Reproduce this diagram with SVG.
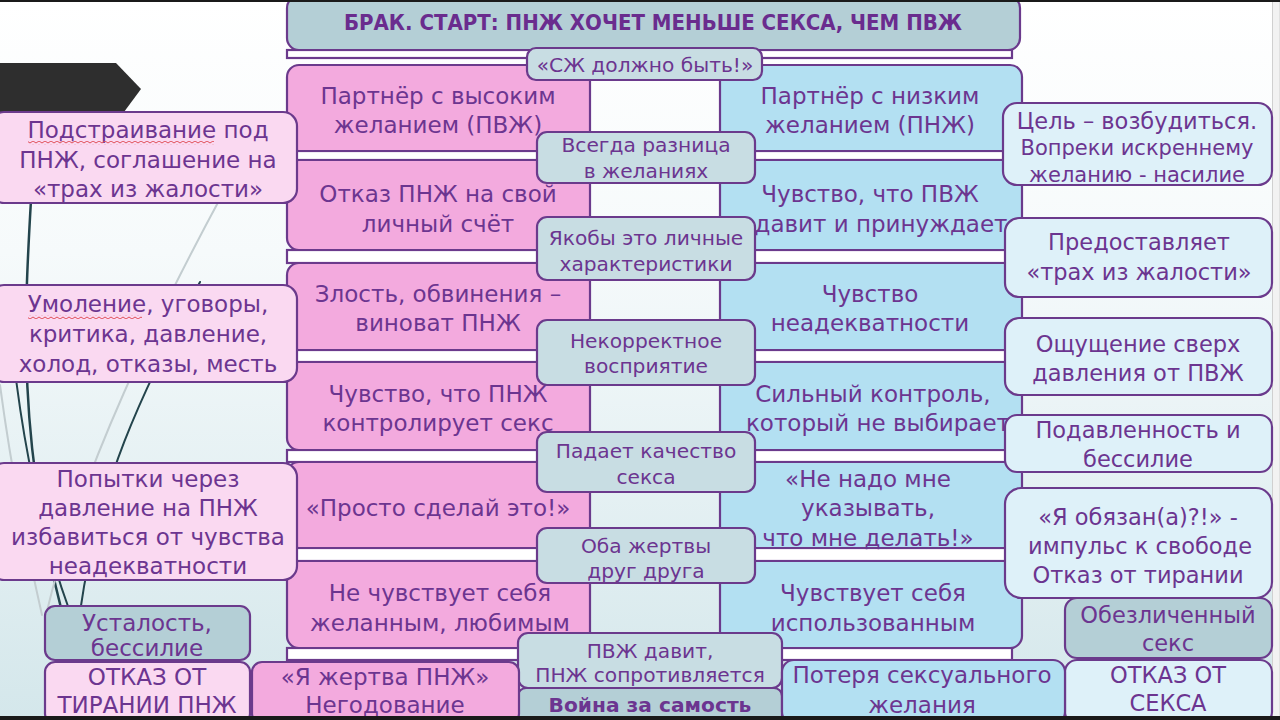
<svg xmlns="http://www.w3.org/2000/svg" width="1280" height="720" viewBox="0 0 1280 720">
<defs>
<linearGradient id="bg" x1="0" y1="0" x2="0" y2="1">
<stop offset="0" stop-color="#ffffff"/>
<stop offset="0.35" stop-color="#f6fafb"/>
<stop offset="1" stop-color="#d4e7eb"/>
</linearGradient>
<pattern id="wave" x="0" y="0" width="6" height="4" patternUnits="userSpaceOnUse">
<path d="M0,3 L3,1 L6,3" fill="none" stroke="#e0505a" stroke-width="1"/>
</pattern>
<style>
.t{font-family:"DejaVu Sans","Noto Sans",sans-serif;font-size:23px;fill:#6c3590;text-anchor:middle}
.r{font-size:22.5px}
.s{font-size:20.2px}
.sr{font-size:21px}
.b{font-weight:bold}
.ttl{font-family:"DejaVu Sans Condensed","DejaVu Sans",sans-serif;font-stretch:condensed;font-weight:bold;font-size:22px;fill:#6a2c8e;text-anchor:middle}
.pk,.lp,.bl,.lb,.gr,.dg,.bar{stroke:#6b3a8c;stroke-width:2.2}
.pk{fill:#f3aade}
.lp{fill:#fad9f1}
.bl{fill:#b3e0f2}
.lb{fill:#def1f9}
.gr{fill:#c8dde3}
.dg{fill:#b4cfd6}
.bar{fill:#ffffff}
.deco{fill:none;stroke-linecap:round}
.sq{fill:url(#wave);stroke:none}
</style>
</defs>
<rect x="0" y="0" width="1280" height="720" fill="url(#bg)"/>
<rect x="1272.5" y="0" width="7.5" height="720" fill="#f2f2f2" stroke="#d0d0d0" stroke-width="1"/>
<g id="decor">
<polygon points="0,63 116,63 141,89 124,112 0,112" fill="#2e2e2e"/>
<path class="deco" d="M31,200 C24,320 18,440 62,612" stroke="#23444c" stroke-width="2.5"/>
<path class="deco" d="M8,300 C18,430 40,530 70,612" stroke="#23444c" stroke-width="2"/>
<path class="deco" d="M200,282 C150,380 100,470 80,612" stroke="#23444c" stroke-width="2"/>
<path class="deco" d="M222,195 C160,310 80,470 46,615" stroke="#c3cdd0" stroke-width="2"/>
<path class="deco" d="M0,385 C10,460 25,540 42,615" stroke="#c3cdd0" stroke-width="2"/>
</g>
<g id="connectors">
<rect class="bar" x="287" y="50" width="725" height="8"/>
<rect class="bar" x="287" y="151" width="725" height="9"/>
<rect class="bar" x="287" y="250" width="725" height="13"/>
<rect class="bar" x="287" y="350" width="725" height="12"/>
<rect class="bar" x="287" y="450" width="725" height="12"/>
<rect class="bar" x="287" y="548" width="725" height="13"/>
<rect class="bar" x="287" y="648" width="725" height="12"/>
</g>
<g id="title"><rect class="dg" x="287" y="-4" width="733" height="54" rx="12"/><text class="ttl" x="653" y="30">БРАК. СТАРТ: ПНЖ ХОЧЕТ МЕНЬШЕ СЕКСА, ЧЕМ ПВЖ</text></g>
<g id="p1"><rect class="pk" x="287" y="65" width="303" height="86" rx="12"/><text class="t" x="438" y="104">Партнёр с высоким</text><text class="t" x="438" y="133">желанием (ПВЖ)</text></g>
<g id="p2"><rect class="pk" x="287" y="160" width="303" height="90" rx="12"/><text class="t" x="438" y="202">Отказ ПНЖ на свой</text><text class="t" x="438" y="232">личный счёт</text></g>
<g id="p3"><rect class="pk" x="287" y="263" width="303" height="87" rx="12"/><text class="t" x="438" y="302">Злость, обвинения –</text><text class="t" x="438" y="331">виноват ПНЖ</text></g>
<g id="p4"><rect class="pk" x="287" y="362" width="303" height="88" rx="12"/><text class="t" x="438" y="402">Чувство, что ПНЖ</text><text class="t" x="438" y="431">контролирует секс</text></g>
<g id="p5"><rect class="pk" x="287" y="462" width="303" height="86" rx="12"/><text class="t" x="438" y="516">«Просто сделай это!»</text></g>
<g id="p6"><rect class="pk" x="287" y="561" width="303" height="87" rx="12"/><text class="t" x="440" y="601">Не чувствует себя</text><text class="t" x="440" y="631">желанным, любимым</text></g>
<g id="b1"><rect class="bl" x="720" y="65" width="302" height="86" rx="12"/><text class="t" x="870" y="104">Партнёр с низким</text><text class="t" x="870" y="133">желанием (ПНЖ)</text></g>
<g id="b2"><rect class="bl" x="720" y="160" width="302" height="90" rx="12"/><text class="t" x="870" y="202">Чувство, что ПВЖ</text><text class="t" x="881" y="232">давит и принуждает</text></g>
<g id="b3"><rect class="bl" x="720" y="263" width="302" height="87" rx="12"/><text class="t" x="870" y="302">Чувство</text><text class="t" x="870" y="331">неадекватности</text></g>
<g id="b4"><rect class="bl" x="720" y="362" width="302" height="88" rx="12"/><text class="t" x="873" y="402">Сильный контроль,</text><text class="t" x="878" y="431">который не выбирает</text></g>
<g id="b5"><rect class="bl" x="720" y="462" width="302" height="86" rx="12"/><text class="t" x="868" y="487">«Не надо мне</text><text class="t" x="868" y="516">указывать,</text><text class="t" x="868" y="546">что мне делать!»</text></g>
<g id="b6"><rect class="bl" x="720" y="561" width="302" height="87" rx="12"/><text class="t" x="873" y="601">Чувствует себя</text><text class="t" x="873" y="631">использованным</text></g>
<g id="c0"><rect class="gr" x="527" y="48" width="235" height="32" rx="9"/><text class="t s" x="645" y="72">«СЖ должно быть!»</text></g>
<g id="c1"><rect class="gr" x="537" y="132" width="218" height="51" rx="10"/><text class="t s" x="646" y="152">Всегда разница</text><text class="t s" x="646" y="178">в желаниях</text></g>
<g id="c2"><rect class="gr" x="537" y="217" width="218" height="63" rx="10"/><text class="t s" x="646" y="245">Якобы это личные</text><text class="t s" x="646" y="271">характеристики</text></g>
<g id="c3"><rect class="gr" x="537" y="320" width="218" height="65" rx="10"/><text class="t s" x="646" y="348">Некорректное</text><text class="t s" x="646" y="373">восприятие</text></g>
<g id="c4"><rect class="gr" x="537" y="432" width="218" height="60" rx="10"/><text class="t s" x="646" y="458">Падает качество</text><text class="t s" x="646" y="484">секса</text></g>
<g id="c5"><rect class="gr" x="537" y="528" width="218" height="55" rx="10"/><text class="t s" x="646" y="553">Оба жертвы</text><text class="t s" x="646" y="578">друг друга</text></g>
<g id="c6"><rect class="gr" x="518" y="633" width="264" height="55" rx="10"/><text class="t s" x="650" y="658">ПВЖ давит,</text><text class="t s" x="650" y="682">ПНЖ сопротивляется</text></g>
<g id="c7"><rect class="dg" x="518" y="688" width="264" height="36" rx="8"/><text class="t s b" x="650" y="712">Война за самость</text></g>
<g id="l1"><rect class="lp" x="-10" y="112" width="307" height="91" rx="14"/><text class="t" x="148" y="138">Подстраивание под</text><text class="t" x="148" y="168">ПНЖ, соглашение на</text><text class="t" x="148" y="197">«трах из жалости»</text><rect class="sq" x="28" y="141" width="186" height="4"/></g>
<g id="l2"><rect class="lp" x="-10" y="285" width="307" height="97" rx="14"/><text class="t" x="148" y="312">Умоление, уговоры,</text><text class="t" x="148" y="342">критика, давление,</text><text class="t" x="148" y="372">холод, отказы, месть</text><rect class="sq" x="28" y="315" width="114" height="4"/></g>
<g id="l3"><rect class="lp" x="-10" y="463" width="307" height="117" rx="14"/><text class="t" x="148" y="487">Попытки через</text><text class="t" x="148" y="516">давление на ПНЖ</text><text class="t" x="148" y="545">избавиться от чувства</text><text class="t" x="148" y="574">неадекватности</text></g>
<g id="l4"><rect class="dg" x="45" y="606" width="205" height="54" rx="10"/><text class="t" x="147" y="631">Усталость,</text><text class="t" x="147" y="656">бессилие</text></g>
<g id="l5"><rect class="lp" x="45" y="662" width="205" height="62" rx="10"/><text class="t" x="147" y="685">ОТКАЗ ОТ</text><text class="t" x="147" y="713">ТИРАНИИ ПНЖ</text></g>
<g id="l6"><rect class="pk" x="252" y="662" width="267" height="62" rx="10"/><text class="t" x="385" y="685">«Я жертва ПНЖ»</text><text class="t" x="385" y="713">Негодование</text></g>
<g id="r1"><rect class="lb" x="1003" y="103" width="269" height="82" rx="14"/><text class="t r" x="1137" y="129">Цель – возбудиться.</text><text class="t sr" x="1137" y="155">Вопреки искреннему</text><text class="t sr" x="1137" y="182">желанию - насилие</text></g>
<g id="r2"><rect class="lb" x="1005" y="218" width="267" height="79" rx="14"/><text class="t r" x="1139" y="250">Предоставляет</text><text class="t r" x="1139" y="280">«трах из жалости»</text></g>
<g id="r3"><rect class="lb" x="1005" y="318" width="267" height="77" rx="14"/><text class="t r" x="1138" y="352">Ощущение сверх</text><text class="t r" x="1138" y="381">давления от ПВЖ</text></g>
<g id="r4"><rect class="lb" x="1005" y="415" width="267" height="57" rx="12"/><text class="t r" x="1138" y="438">Подавленность и</text><text class="t r" x="1138" y="467">бессилие</text></g>
<g id="r5"><rect class="lb" x="1005" y="488" width="267" height="110" rx="16"/><text class="t r" x="1138" y="525">«Я обязан(а)?!» -</text><text class="t r" x="1140" y="554">импульс к свободе</text><text class="t r" x="1138" y="583">Отказ от тирании</text></g>
<g id="r6"><rect class="dg" x="1065" y="598" width="207" height="60" rx="12"/><text class="t r" x="1168" y="623">Обезличенный</text><text class="t r" x="1168" y="651">секс</text></g>
<g id="r7"><rect class="lb" x="1065" y="660" width="207" height="64" rx="12"/><text class="t r" x="1168" y="683">ОТКАЗ ОТ</text><text class="t r" x="1168" y="711">СЕКСА</text></g>
<g id="r8"><rect class="bl" x="782" y="660" width="283" height="64" rx="12"/><text class="t" x="922" y="683">Потеря сексуального</text><text class="t" x="922" y="713">желания</text></g>
<rect x="0" y="0" width="1280" height="2" fill="#1a1a1a"/>
<rect x="0" y="716" width="1280" height="4" fill="#1a1a1a"/>
</svg>
